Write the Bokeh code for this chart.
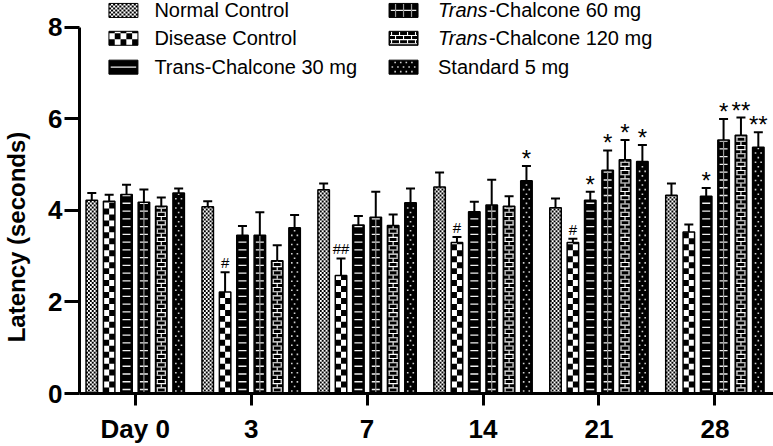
import math
from bokeh.plotting import figure
from bokeh.models import ColumnDataSource, Whisker, TeeHead, FixedTicker, Range1d
from bokeh.core.properties import value
from bokeh.embed import file_html
from bokeh.resources import INLINE

# ---------------- data ----------------
groups = ["Day 0", "3", "7", "14", "21", "28"]
series = ["Normal Control", "Disease Control", "Trans-Chalcone 30 mg",
          "Trans-Chalcone 60 mg", "Trans-Chalcone 120 mg", "Standard 5 mg"]

nc = [4.22, 4.08, 4.45, 4.51, 4.06, 4.33]
dc = [4.20, 2.22, 2.58, 3.30, 3.30, 3.53]
tc30 = [4.35, 3.46, 3.68, 3.97, 4.22, 4.31]
tc60 = [4.18, 3.46, 3.85, 4.12, 4.88, 5.54]
tc120 = [4.09, 2.90, 3.67, 4.09, 5.11, 5.64]
std = [4.38, 3.62, 4.17, 4.65, 5.07, 5.38]

nc_err = [0.16, 0.12, 0.14, 0.32, 0.20, 0.26]
dc_err = [0.14, 0.43, 0.37, 0.12, 0.08, 0.16]
tc30_err = [0.21, 0.20, 0.20, 0.22, 0.19, 0.18]
tc60_err = [0.28, 0.50, 0.56, 0.55, 0.43, 0.46]
tc120_err = [0.19, 0.34, 0.24, 0.22, 0.43, 0.39]
std_err = [0.10, 0.28, 0.31, 0.32, 0.36, 0.33]

nc_sig = ["", "", "", "", "", ""]
dc_sig = ["", "#", "##", "#", "#", ""]
tc30_sig = ["", "", "", "", "*", "*"]
tc60_sig = ["", "", "", "", "*", "*"]
tc120_sig = ["", "", "", "", "*", "**"]
std_sig = ["", "", "", "*", "*", "**"]

y_ticks = [0, 2, 4, 6, 8]

means = [nc, dc, tc30, tc60, tc120, std]
errs = [nc_err, dc_err, tc30_err, tc60_err, tc120_err, std_err]
sigs = [nc_sig, dc_sig, tc30_sig, tc60_sig, tc120_sig, std_sig]

# ---------------- pattern styles ----------------
kinds = ["fine_checker", "checker", "hdash", "ladder", "brick", "dots"]
bg = {"fine_checker": "white", "checker": "white", "hdash": "black",
      "ladder": "black", "brick": "black", "dots": "black"}


def pattern_rects(kind, w, h, phase):
    """Pattern cells (cx, cy, rw, rh, color) in px, relative to box centre-x and base-y."""
    out = []

    def add(cx, cy, rw, rh, col):
        y0 = max(cy - rh / 2, 0.0); y1 = min(cy + rh / 2, h)
        x0 = max(cx - rw / 2, -w / 2); x1 = min(cx + rw / 2, w / 2)
        if y1 - y0 > 0.2 and x1 - x0 > 0.2:
            out.append(((x0 + x1) / 2, (y0 + y1) / 2, x1 - x0, y1 - y0, col))

    if kind in ("fine_checker", "checker"):
        s = 2.0 if kind == "fine_checker" else 6.0
        ncols = max(2, int(round(w / s)))
        cw = w / ncols
        for r in range(int(math.ceil(h / s))):
            for k in range(ncols):
                if (r + k) % 2 == 0:
                    add(-w / 2 + (k + 0.5) * cw, (r + 0.5) * s, cw, s, "black")
    elif kind in ("hdash", "ladder"):
        if kind == "ladder":
            for k in range(-3, 4):
                x = 8.0 * k
                if abs(x) < w / 2 - 1:
                    add(x, h / 2, 1.2, h, "#9a9a9a")
        y = phase
        while y < h - 1:
            add(0, y, w - 3.5, 1.3, "#f0f0f0")
            y += 7.8
    elif kind == "brick":
        j = 0
        y = 1.5
        while y < h - 0.5:
            add(0, y, w - 2, 1.1, "white")
            off = 4.0 if j % 2 == 0 else 0.0
            for k in range(-3, 4):
                x = off + 8.0 * k
                if abs(x) < w / 2 - 1:
                    add(x, y + 2.1, 1.1, 3.2, "white")
            y += 4.2
            j += 1
    elif kind == "dots":
        j = 0
        y = 2.5
        while y < h - 1:
            off = 0.0 if j % 2 == 0 else 2.8
            for k in range(-4, 5):
                x = off + 5.6 * k - 2.8
                if abs(x) < w / 2 - 1.2:
                    add(x, y, 1.6, 1.6, "#cfcfcf")
            y += 4.6
            j += 1
    return out

# ---------------- layout helpers (screen px -> data) ----------------
X0, XU = 133.8, 116.1
Y0, YU = 395.0, 46.0
def dx(sx):
    return (sx - X0) / XU
def dy(sy):
    return (Y0 - sy) / YU

W, H = 773, 446
p = figure(width=W, height=H, output_backend="svg", toolbar_location=None,
           x_range=Range1d(dx(78), dx(773)), y_range=Range1d(0, dy(0)),
           min_border_left=78, min_border_right=0, min_border_top=0, min_border_bottom=51)
p.outline_line_color = None
p.xgrid.visible = False
p.ygrid.visible = False
p.background_fill_color = "white"

pitch = 17.4 / XU
bw_px = 11.5
bw = bw_px / XU

cells = {}  # colour -> dict of lists


def collect(cx_data, base_data, kind, w_px, h_px, phase):
    for (cx, cy, rw, rh, col) in pattern_rects(kind, w_px, h_px, phase):
        d = cells.setdefault(col, dict(x=[], y=[], w=[], h=[]))
        d["x"].append(cx_data + cx / XU)
        d["y"].append(base_data + cy / YU)
        d["w"].append(rw / XU)
        d["h"].append(rh / YU)


bar_sources = []
for i, (m, e, s, kind) in enumerate(zip(means, errs, sigs, kinds)):
    xs = [g + (i - 2.5) * pitch for g in range(len(groups))]
    up = [a + b for a, b in zip(m, e)]
    src = ColumnDataSource(dict(x=xs, top=m, upper=up, sig=s))
    bar_sources.append(src)
    p.vbar(x="x", top="top", width=bw, source=src, fill_color=bg[kind], line_color=None)
    for x, t in zip(xs, m):
        collect(x, 0.0, kind, bw_px, t * YU, 4.0)

# legend swatch geometry
rows_sy = [10, 38, 67]
leg_x = [dx(122), dx(402.5)]
txt_x = [dx(153), dx(437)]
sw_w, sw_h = 29, 14
leg_src = []
for i, kind in enumerate(kinds):
    col, row = divmod(i, 3)
    yy = dy(rows_sy[row])
    leg_src.append((leg_x[col], yy))
    p.rect(x=[leg_x[col]], y=[yy], width=sw_w, height=sw_h, width_units="screen",
           height_units="screen", fill_color=bg[kind], line_color=None)
    collect(leg_x[col], yy - (sw_h / 2) / YU, kind, sw_w, sw_h, 7.0)

for col, d in cells.items():
    p.rect(x=d["x"], y=d["y"], width=d["w"], height=d["h"], fill_color=col, line_color=None)

# outlines on top
for src in bar_sources:
    p.vbar(x="x", top="top", width=bw, source=src, fill_color=None,
           line_color="black", line_width=1.5)
for (lx, ly) in leg_src:
    p.rect(x=[lx], y=[ly], width=sw_w, height=sw_h, width_units="screen",
           height_units="screen", fill_color=None, line_color="black", line_width=1)

# error bars and significance marks
for i, src in enumerate(bar_sources):
    p.add_layout(Whisker(base="x", upper="upper", lower="top", source=src,
                         line_width=2, line_color="black",
                         upper_head=TeeHead(size=9, line_width=2, line_color="black"),
                         lower_head=None))
    fs = "15px" if i == 1 else "24px"
    yo = -1 if i == 1 else 6
    p.text(x="x", y="upper", text="sig", source=src, text_align="center",
           text_baseline="bottom", text_font=value("Liberation Sans"), text_font_size=fs,
           y_offset=yo, text_color="black")

# legend texts
for i, name in enumerate(series):
    col, row = divmod(i, 3)
    yy = dy(rows_sy[row])
    if col == 1 and name.startswith("Trans-"):
        p.text(x=[txt_x[col]], y=[yy], text=["Trans"], text_baseline="middle",
               text_font=value("Liberation Sans"), text_font_size="20px",
               text_font_style="italic", text_color="black")
        p.text(x=[txt_x[col] + 51 / XU], y=[yy], text=[name[5:]], text_baseline="middle",
               text_font=value("Liberation Sans"), text_font_size="20px", text_color="black")
    else:
        p.text(x=[txt_x[col]], y=[yy], text=[name], text_baseline="middle",
               text_font=value("Liberation Sans"), text_font_size="20px", text_color="black")

# ---------------- axes ----------------
xa = p.xaxis[0]
xa.ticker = FixedTicker(ticks=list(range(len(groups))))
xa.major_label_overrides = {i: g for i, g in enumerate(groups)}
xa.axis_line_width = 3
xa.major_tick_line_width = 3
xa.major_tick_out = 12
xa.major_tick_in = 0
xa.minor_tick_line_color = None
xa.major_label_standoff = 8
xa.major_label_text_font = "Liberation Sans"
xa.major_label_text_font_style = "bold"
xa.major_label_text_font_size = "26px"
xa.major_label_text_color = "black"

ya = p.yaxis[0]
ya.ticker = FixedTicker(ticks=y_ticks)
ya.bounds = (0, 8)
ya.axis_line_width = 3
ya.major_tick_line_width = 3
ya.major_tick_out = 15
ya.major_tick_in = 0
ya.minor_tick_line_color = None
ya.major_label_standoff = 2
ya.major_label_text_font = "Liberation Sans"
ya.major_label_text_font_style = "bold"
ya.major_label_text_font_size = "26px"
ya.major_label_text_color = "black"
ya.axis_label = "Latency (seconds)" + "\u00a0" * 12
ya.axis_label_standoff = 15
ya.axis_label_text_font = "Liberation Sans"
ya.axis_label_text_font_style = "bold"
ya.axis_label_text_font_size = "24px"
ya.axis_label_text_color = "black"

open("out.html", "w").write(file_html(p, INLINE))
